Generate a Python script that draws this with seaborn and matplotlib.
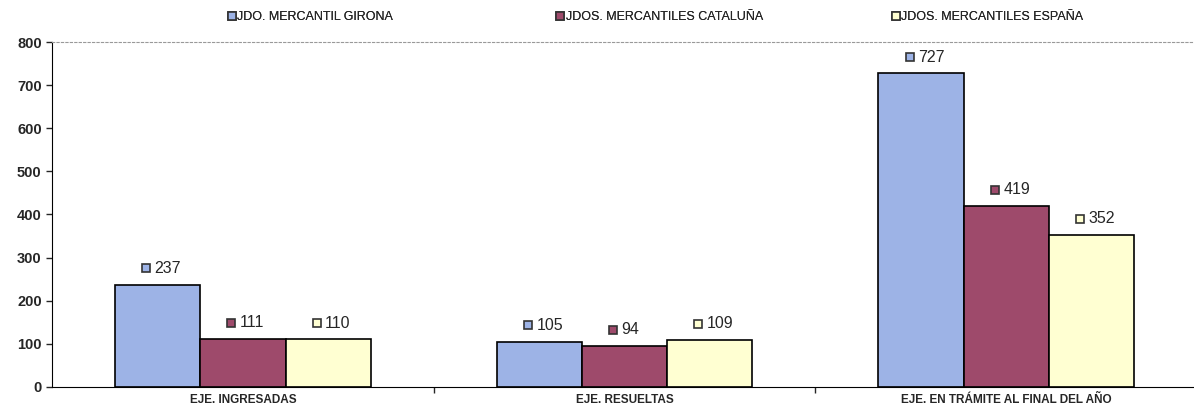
import pandas as pd
import matplotlib
matplotlib.use("Agg")
import matplotlib.pyplot as plt
import seaborn as sns
from matplotlib.lines import Line2D

categories = ["EJE. INGRESADAS", "EJE. RESUELTAS", "EJE. EN TRÁMITE AL FINAL DEL AÑO"]
series = ["JDO. MERCANTIL GIRONA", "JDOS. MERCANTILES CATALUÑA", "JDOS. MERCANTILES ESPAÑA"]
girona = [237, 105, 727]
cataluna = [111, 94, 419]
espana = [110, 109, 352]
colors = ["#9db3e6", "#9e4a6b", "#ffffd2"]

rows = []
for s, vals in zip(series, [girona, cataluna, espana]):
    for c, v in zip(categories, vals):
        rows.append({"cat": c, "serie": s, "valor": v})
df = pd.DataFrame(rows)

sns.set_style("white")
plt.rcParams["font.family"] = ["Liberation Sans", "DejaVu Sans"]

fig = plt.figure(figsize=(11.94, 4.16), dpi=100)
ax = fig.add_axes([0.0436, 0.07, 0.959, 0.829])

sns.barplot(data=df, x="cat", y="valor", hue="serie", palette=colors,
            width=0.67, edgecolor="black", linewidth=1.2, ax=ax, legend=False,
            saturation=1)

ax.set_ylim(0, 800)
ax.set_xlim(-0.5, 2.5)
ax.set_yticks(range(0, 801, 100))
ax.tick_params(axis="y", labelsize=10.5, length=4, width=1, direction="out", left=True)
for t in ax.get_yticklabels():
    t.set_fontweight("bold")
ax.tick_params(axis="x", length=0, labelsize=8.5, pad=5)
for t in ax.get_xticklabels():
    t.set_fontweight("bold")
ax.set_xticks([0.5, 1.5], minor=True)
ax.tick_params(axis="x", which="minor", length=4, width=1, bottom=True)
ax.set_xlabel("")
ax.set_ylabel("")

ax.spines["right"].set_visible(False)
ax.spines["top"].set_linestyle((0, (2, 2)))
ax.spines["top"].set_color("#999999")
ax.spines["top"].set_linewidth(0.8)
ax.spines["left"].set_color("black")
ax.spines["bottom"].set_color("black")

# value labels with small coloured square
for patch, col in zip(ax.patches, [c for c in colors for _ in categories]):
    h = patch.get_height()
    xc = patch.get_x() + patch.get_width() / 2
    ax.plot(xc - 0.03, h + 38, marker="s", markersize=6, markerfacecolor=col,
            markeredgecolor="#333333", markeredgewidth=1.2, clip_on=False)
    ax.text(xc - 0.008, h + 38, str(int(h)), fontsize=11.5, va="center", ha="left")

# legend: one entry per box so the spacing is even
legend_x = [0.18, 0.455, 0.736]
for s, c, lx in zip(series, colors, legend_x):
    h = Line2D([], [], marker="s", linestyle="", markersize=6, markerfacecolor=c,
               markeredgecolor="#333333", markeredgewidth=1.2)
    leg = fig.legend([h], [s], loc="upper left", bbox_to_anchor=(lx, 1.0),
                     frameon=False, fontsize=9, handletextpad=0.0, handlelength=0.9)
    fig.add_artist(leg)

fig.savefig("out.png", dpi=100)
